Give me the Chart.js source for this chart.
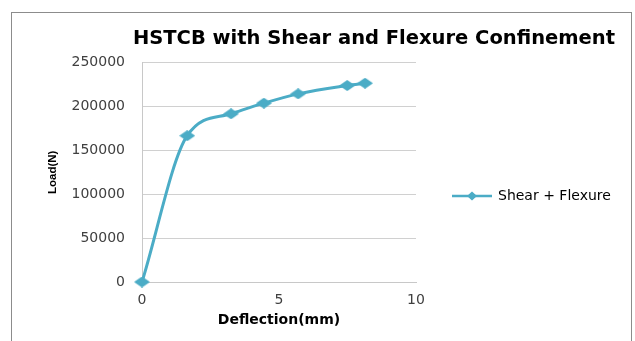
<!DOCTYPE html>
<html><head><meta charset="utf-8">
<script src="https://cdn.jsdelivr.net/npm/chart.js@4"></script>
<style>html,body{margin:0;padding:0;background:#fff;} #wrap{width:635px;height:341px;position:relative;}</style>
</head><body>
<div id="wrap"><canvas id="c" width="635" height="341"></canvas></div>
<script>
const deflection = [0, 1.65, 3.25, 4.45, 5.70, 7.49, 8.14];
const load = [0, 166700, 191700, 203800, 214400, 223900, 226500];
const seriesName = 'Shear + Flexure';
const chartTitle = 'HSTCB with Shear and Flexure Confinement';
const xTitle = 'Deflection(mm)';
const yTitle = 'Load(N)';
const xTicks = [0, 5, 10];
const yTicks = [0, 50000, 100000, 150000, 200000, 250000];

const COLOR = '#4BACC6';
Chart.defaults.font.family = "'DejaVu Sans', sans-serif";

function diamond(w, h) {
  const c = document.createElement('canvas'); c.width = w; c.height = h;
  const g = c.getContext('2d'); g.fillStyle = COLOR;
  g.beginPath(); g.moveTo(w/2, 0); g.lineTo(w, h/2); g.lineTo(w/2, h); g.lineTo(0, h/2); g.closePath(); g.fill();
  return c;
}
function legendMark() {
  const c = document.createElement('canvas'); c.width = 40; c.height = 10;
  const g = c.getContext('2d');
  g.strokeStyle = COLOR; g.lineWidth = 2.5; g.beginPath(); g.moveTo(0, 5); g.lineTo(40, 5); g.stroke();
  g.fillStyle = COLOR; g.beginPath(); g.moveTo(20, 0.5); g.lineTo(25, 5); g.lineTo(20, 9.5); g.lineTo(15, 5); g.closePath(); g.fill();
  return c;
}

const layoutPlugin = {
  id: 'fixLayout',
  beforeLayout(chart) {
    const lg = chart.legend;
    if (lg && !lg._fixed) {
      const orig = lg.fit.bind(lg);
      lg.fit = function () { orig(); this.width = 199; };
      lg._fixed = true;
    }
  },
  afterLayout(chart) {
    const lg = chart.legend;
    if (lg) { lg.left = 443; lg.right = 635; lg.top = 179; lg.bottom = 230; lg.width = 192; lg.height = 51; }
  },
  beforeDraw(chart) {
    const ctx = chart.ctx;
    ctx.save(); ctx.strokeStyle = '#8c8c8c'; ctx.lineWidth = 1;
    ctx.strokeRect(11.5, 12.5, 620, 340); ctx.restore();
  }
};

new Chart(document.getElementById('c'), {
  type: 'line',
  data: {
    datasets: [{
      label: seriesName,
      data: deflection.map((x, i) => ({ x: x, y: load[i] })),
      borderColor: COLOR, backgroundColor: COLOR, borderWidth: 3,
      cubicInterpolationMode: 'monotone', pointStyle: diamond(16, 11), pointRadius: 6,
      clip: false, fill: false
    }]
  },
  options: {
    responsive: false, animation: false, devicePixelRatio: 1,
    layout: { padding: { left: 0, right: 20, top: 0, bottom: 0 } },
    plugins: {
      title: { display: true, text: chartTitle, align: 'end', color: '#000',
        font: { size: 19.5, weight: 'bold' }, padding: { top: 27, bottom: 12.2 } },
      legend: { position: 'right', align: 'start',
        labels: { usePointStyle: true, pointStyleWidth: 38, padding: 10, color: '#404040', font: { size: 14 },
          generateLabels: () => [{ text: seriesName, pointStyle: legendMark(), fillStyle: COLOR, strokeStyle: COLOR, lineWidth: 0, hidden: false, datasetIndex: 0 }] } },
      tooltip: { enabled: false }
    },
    scales: {
      x: { type: 'linear', min: 0, max: 10,
        afterBuildTicks: s => { s.ticks = xTicks.map(v => ({ value: v })); },
        ticks: { padding: 10, color: '#404040', font: { size: 14 }, callback: v => String(v) },
        grid: { display: false, drawTicks: false },
        border: { display: true, color: '#C8C8C8' },
        title: { display: true, text: xTitle, color: '#000', font: { size: 14, weight: 'bold' }, padding: { top: 0, bottom: 12 } },
        afterFit: s => { s.height = 59; } },
      y: { type: 'linear', min: 0, max: 250000,
        afterBuildTicks: s => { s.ticks = yTicks.map(v => ({ value: v })); },
        ticks: { padding: 17, color: '#404040', font: { size: 14 }, callback: v => String(v) },
        grid: { color: '#D0D0D0', drawTicks: false },
        border: { display: true, color: '#C8C8C8' },
        title: { display: true, text: yTitle, color: '#000', font: { family: "'Liberation Sans', sans-serif", size: 11.5, weight: 'bold' }, padding: { top: 46, bottom: 0 } },
        afterFit: s => { s.width = 142; } }
    }
  },
  plugins: [layoutPlugin]
});
</script>
</body></html>
